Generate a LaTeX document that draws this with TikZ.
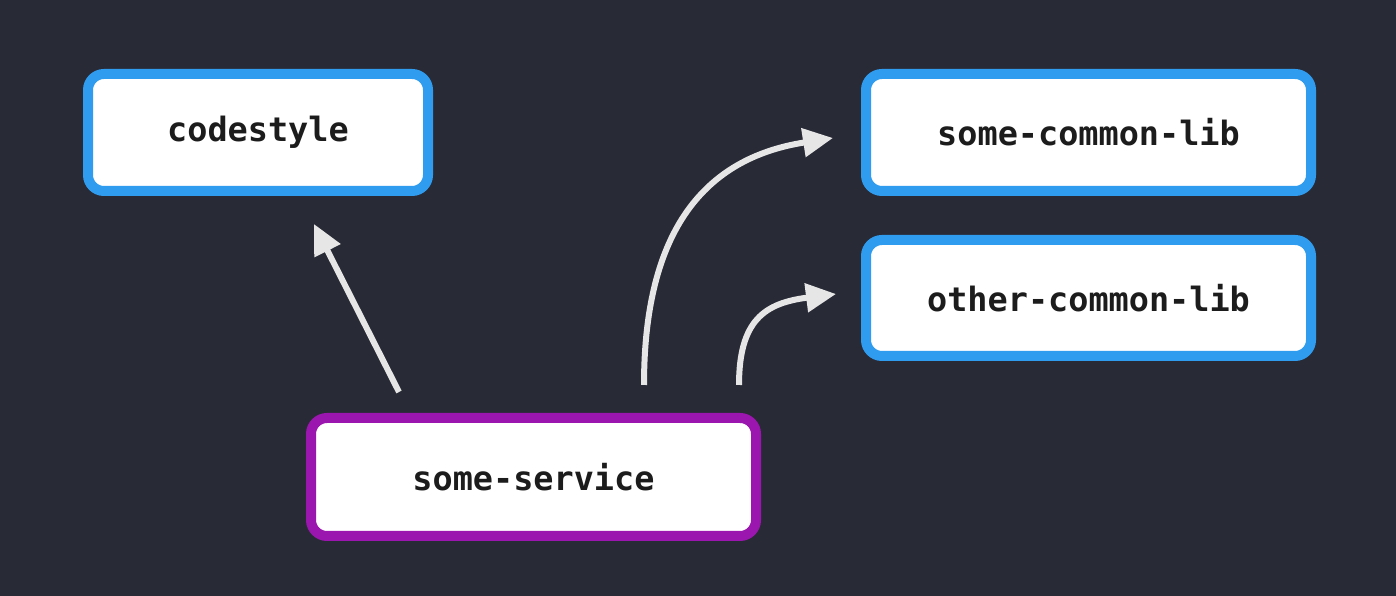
\documentclass[tikz,border=0pt]{standalone}
\usepackage{fontspec}
\setmonofont{DejaVu Sans Mono}
\usetikzlibrary{arrows.meta}
\usetikzlibrary{positioning}
\definecolor{bgdark}{HTML}{282A36}
\definecolor{libblue}{HTML}{309CF0}
\definecolor{svcpurple}{HTML}{9A16AE}
\definecolor{arrowgrey}{HTML}{E6E6E6}
\definecolor{labelblack}{HTML}{1C1C1C}

\tikzset{
  pkgbox/.style={draw=#1, fill=white, line width=10pt, rounded corners=16pt,
    outer sep=0pt, inner sep=0pt, text=labelblack,
    font=\fontsize{33.5}{40}\selectfont\ttfamily\bfseries},
  dep/.style={-{Triangle[length=30pt,width=28pt]}, line width=6pt, draw=arrowgrey},
}

\begin{document}
\begin{tikzpicture}[x=1pt,y=1pt]
            % Background
            \fill[bgdark] (0,0) rectangle (1396,596);
            \useasboundingbox (0,0) rectangle (1396,596);

            % Packages
            \node[pkgbox=libblue, minimum width=340pt, minimum height=117pt] (codestyle) at (258,463.5) {codestyle};
            \node[pkgbox=libblue, minimum width=445pt, minimum height=117pt] (commonlib) at (1088.5,463.5) {some-common-lib};
            \node[pkgbox=libblue, minimum width=445pt, minimum height=116pt] (otherlib) at (1088.5,298) {other-common-lib};
            \node[pkgbox=svcpurple, minimum width=445pt, minimum height=118pt] (service) at (533.5,119) {some-service};

            % Arrow ends
            \coordinate (service-a) at ([xshift=-134.5pt, yshift=26pt]service.north);
            \coordinate (service-b) at ([xshift=110.5pt, yshift=33pt]service.north);
            \coordinate (service-c) at ([xshift=205.5pt, yshift=33pt]service.north);
            \coordinate (codestyle-in) at ([xshift=56pt, yshift=-33pt]codestyle.south);
            \coordinate (commonlib-in) at ([xshift=-33pt, yshift=-5.5pt]commonlib.west);
            \coordinate (otherlib-in) at ([xshift=-30pt, yshift=4pt]otherlib.west);

            % Dependencies
            \draw[dep] (service-a) -- (codestyle-in);
            \draw[dep] (service-b) .. controls +(0,155) and +(-128,-20) .. (commonlib-in);
            \draw[dep] (service-c) .. controls +(0,65) and +(-71,-9) .. (otherlib-in);

        \end{tikzpicture}
\end{document}
